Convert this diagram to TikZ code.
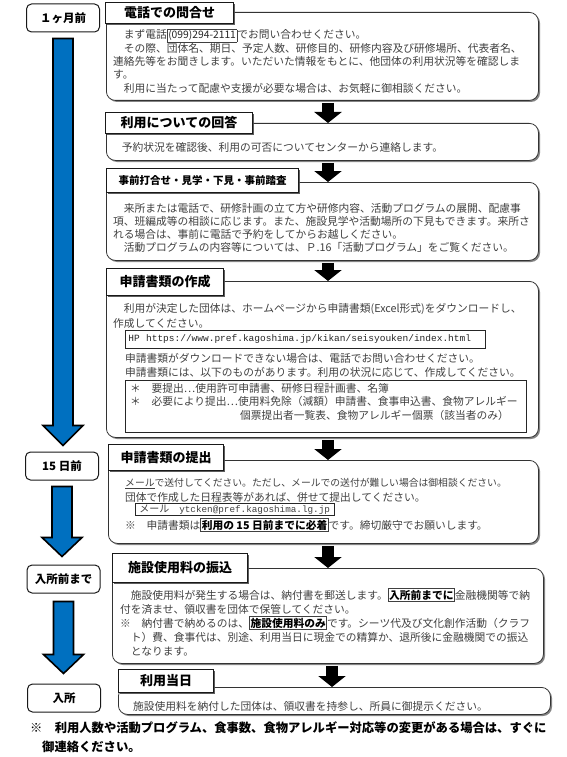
\documentclass[tikz,border=0pt]{standalone}
\usepackage{fontspec}
\setmainfont{Noto Sans CJK JP}
\newfontfamily\monof{Liberation Mono}
\usetikzlibrary{arrows.meta,shadows,calc}
\definecolor{bodygray}{HTML}{404040}
\definecolor{arrowblue}{HTML}{0070C0}
\newcommand\kbox[1]{{\setlength\fboxsep{0.7pt}\setlength\fboxrule{0.6pt}\fbox{\rule[-1.6pt]{0pt}{9.4pt}#1}}}
\newcommand\kboxb[1]{\kbox{\textcolor{black}{\bfseries #1}}}
\begin{document}
\begin{tikzpicture}[x=1pt,y=-1pt,
  bbox/.style={draw=black!80, line width=0.8pt, rounded corners=9pt, fill=white, anchor=north west,
    drop shadow={shadow xshift=1.6pt, shadow yshift=-1.6pt, fill=black!60, opacity=0.8}},
  headbox/.style={draw=black!90, line width=1pt, fill=white, anchor=north west, inner sep=0pt,
    font=\bfseries\fontsize{13}{13}\selectfont,
    drop shadow={shadow xshift=1.6pt, shadow yshift=-1.6pt, fill=black!70, opacity=0.9}},
  lab/.style={draw=black!90, line width=1pt, rounded corners=5pt, fill=white, minimum width=73pt,
    minimum height=28pt, inner sep=0pt, font=\bfseries\fontsize{11.5}{12}\selectfont},
  tl/.style={anchor=west, inner sep=0pt, text height=9.4pt, text depth=1.4pt,
    font=\fontsize{10.75}{13}\selectfont, text=bodygray},
  foot/.style={anchor=west, inner sep=0pt, text height=10.5pt, text depth=1.6pt,
    font=\bfseries\fontsize{12.3}{14}\selectfont, text=black},
  blk/.style={line width=12pt, -{Triangle[width=27pt,length=11pt]}, shorten <=2pt},
  barrow/.style={fill=arrowblue, draw=black, line width=1.6pt, line join=miter}
]
\useasboundingbox[fill=white] (0,0) rectangle (567,757);

% ---------- left column labels ----------
\node[lab] (m1) at (63,18) {１ヶ月前};
\node[lab] (d15) at (62,466) {15 日前};
\node[lab] (mae) at (63.5,579) {入所前まで};
\node[lab] (nyu) at (64,698) {入所};

\draw[barrow] let \p1=(m1.south), \p2=(d15.north) in
  (\x1-10pt,\y1-6pt) -- (\x1+10pt,\y1-6pt) -- (\x1+10pt,\y2+26pt) -- (\x1+20pt,\y2+26pt)
  -- (\x1,\y2+6pt) -- (\x1-20pt,\y2+26pt) -- (\x1-10pt,\y2+26pt) -- cycle;
\draw[barrow] let \p1=(d15.south), \p2=(mae.north) in
  (\x1-10pt,\y1-6pt) -- (\x1+10pt,\y1-6pt) -- (\x1+10pt,\y2+27pt) -- (\x1+20pt,\y2+27pt)
  -- (\x1,\y2+8pt) -- (\x1-20pt,\y2+27pt) -- (\x1-10pt,\y2+27pt) -- cycle;
\draw[barrow] let \p1=(mae.south), \p2=(nyu.north) in
  (\x1-10pt,\y1-8pt) -- (\x1+10pt,\y1-8pt) -- (\x1+10pt,\y2+29pt) -- (\x1+20pt,\y2+29pt)
  -- (\x1,\y2+10pt) -- (\x1-20pt,\y2+29pt) -- (\x1-10pt,\y2+29pt) -- cycle;

% ---------- body boxes ----------
\node[bbox, minimum width=432pt, minimum height=88pt] (b1) at (106,12) {};
\node[bbox, minimum width=432pt, minimum height=37pt] (b2) at (106,123) {};
\node[bbox, minimum width=432pt, minimum height=78pt] (b3) at (106,182) {};
\node[bbox, minimum width=432pt, minimum height=156pt] (b4) at (106,281) {};
\node[bbox, minimum width=430pt, minimum height=83pt] (b5) at (108,460) {};
\node[bbox, minimum width=431pt, minimum height=95pt] (b6) at (112,568) {};
\node[bbox, minimum width=432pt, minimum height=27pt] (b7) at (118,687) {};

% ---------- connectors between boxes ----------
\coordinate (ax) at (328,0);
\coordinate (ax2) at (332,0);
\draw[blk] (b1.south -| ax) -- (b2.north -| ax);
\draw[blk] (b2.south -| ax) -- (b3.north -| ax);
\draw[blk] (b3.south -| ax) -- (b4.north -| ax);
\draw[blk] (b4.south -| ax) -- (b5.north -| ax);
\draw[blk] (b5.south -| ax) -- (b6.north -| ax);
\draw[blk] (b6.south -| ax2) -- (b7.north -| ax2);

% ---------- headings ----------
\node[headbox, minimum width=128pt, minimum height=21pt] (h1) at (105,2) {電話での問合せ};
\node[headbox, minimum width=147pt, minimum height=21pt] (h2) at (105,112) {利用についての回答};
\node[headbox, minimum width=192pt, minimum height=24pt, font=\bfseries\fontsize{10.5}{11}\selectfont] (h3) at (106,168) {事前打合せ・見学・下見・事前踏査};
\node[headbox, minimum width=117pt, minimum height=27pt] (h4) at (106,268) {申請書類の作成};
\node[headbox, minimum width=115pt, minimum height=26pt] (h5) at (108,444) {申請書類の提出};
\node[headbox, minimum width=135pt, minimum height=29pt] (h6) at (112,553) {施設使用料の振込};
\node[headbox, minimum width=95pt, minimum height=23pt] (h7) at (118,669) {利用当日};

% ---------- box 1 text ----------
\node[tl] (t11) at (113,35) {　まず電話\kbox{\textcolor{black!85}{\fontsize{10.3}{11}\selectfont (099)294-2111}}でお問い合わせください。};
\node[tl] (t12) at (113,49) {　その際、団体名、期日、予定人数、研修目的、研修内容及び研修場所、代表者名、};
\node[tl] (t13) at (113,62) {連絡先等をお聞きします。いただいた情報をもとに、他団体の利用状況等を確認しま};
\node[tl] (t14) at (113,75) {す。};
\node[tl] (t15) at (113,89) {　利用に当たって配慮や支援が必要な場合は、お気軽に御相談ください。};

% ---------- box 2 text ----------
\node[tl] (t21) at (111,147) {　予約状況を確認後、利用の可否についてセンターから連絡します。};

% ---------- box 3 text ----------
\node[tl] (t31) at (113,208) {　来所または電話で、研修計画の立て方や研修内容、活動プログラムの展開、配慮事};
\node[tl] (t32) at (113,221) {項、班編成等の相談に応じます。また、施設見学や活動場所の下見もできます。来所さ};
\node[tl] (t33) at (113,234) {れる場合は、事前に電話で予約をしてからお越しください。};
\node[tl] (t34) at (113,247) {　活動プログラムの内容等については、Ｐ.16「活動プログラム」をご覧ください。};

% ---------- box 4 text ----------
\node[tl] (t41) at (113,308) {　利用が決定した団体は、ホームページから申請書類(Excel形式)をダウンロードし、};
\node[tl] (t42) at (113,323) {作成してください。};
\node[draw=black!85, line width=0.8pt, anchor=north west, minimum width=360pt, minimum height=18pt,
  inner xsep=3pt, inner ysep=0pt, text width=354pt, align=left, text=black!85,
  font=\monof\fontsize{9.5}{10}\selectfont] (url) at (125,330) {HP\ \ https://www.pref.kagoshima.jp/kikan/seisyouken/index.html};
\node[tl] (t43) at (125,358) {申請書類がダウンロードできない場合は、電話でお問い合わせください。};
\node[tl] (t44) at (125,372) {申請書類には、以下のものがあります。利用の状況に応じて、作成してください。};
\node[draw=black!85, line width=0.8pt, anchor=north west, minimum width=401pt, minimum height=52pt, inner sep=0pt] (list) at (125,380) {};
\node[tl] (t45) at (130,388) {＊　要提出…使用許可申請書、研修日程計画書、名簿};
\node[tl] (t46) at (130,401) {＊　必要により提出…使用料免除（減額）申請書、食事申込書、食物アレルギー};
\node[tl] (t47) at (240,415) {個票提出者一覧表、食物アレルギー個票（該当者のみ）};

% ---------- box 5 text ----------
\node[tl, font=\fontsize{9.8}{12}\selectfont] (t51) at (125,482) {\underline{メール}で送付してください。ただし、メールでの送付が難しい場合は御相談ください。};
\node[tl] (t52) at (125,497) {団体で作成した日程表等があれば、併せて提出してください。};
\node[draw=black!85, line width=0.6pt, anchor=west, inner xsep=4pt, inner ysep=0.8pt,
  text height=8.6pt, text depth=1.6pt, text=bodygray, font=\fontsize{10}{11}\selectfont] (mail) at (135,509)
  {メール　{\monof\fontsize{9.3}{10}\selectfont ytcken@pref.kagoshima.lg.jp}};
\node[tl] (t53) at (125,525) {※　申請書類は\kboxb{利用の 15 日前までに必着}です。締切厳守でお願いします。};

% ---------- box 6 text ----------
\node[tl] (t61) at (120,595) {　施設使用料が発生する場合は、納付書を郵送します。\kboxb{入所前までに}金融機関等で納};
\node[tl] (t62) at (120,609) {付を済ませ、領収書を団体で保管してください。};
\node[tl] (t63) at (120,623) {※　納付書で納めるのは、\kboxb{施設使用料のみ}です。シーツ代及び文化創作活動（クラフ};
\node[tl] (t64) at (120,637) {　ト）費、食事代は、別途、利用当日に現金での精算か、退所後に金融機関での振込};
\node[tl] (t65) at (120,651) {　となります。};

% ---------- box 7 text ----------
\node[tl] (t71) at (133,706) {施設使用料を納付した団体は、領収書を持参し、所員に御提示ください。};

% ---------- footer ----------
\node[foot] (f1) at (30,728) {※　利用人数や活動プログラム、食事数、食物アレルギー対応等の変更がある場合は、すぐに};
\node[foot] (f2) at (42,747) {御連絡ください。};
\end{tikzpicture}
\end{document}
